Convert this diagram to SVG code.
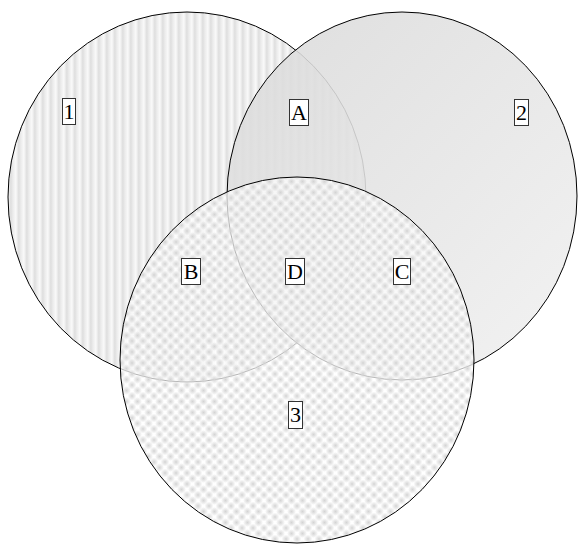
<svg xmlns="http://www.w3.org/2000/svg" width="579" height="545" viewBox="0 0 579 545">
<defs>
<linearGradient id="stripeG" x1="0" y1="0" x2="1" y2="0">
<stop offset="0" stop-color="#f8f8f8"/>
<stop offset="0.35" stop-color="#dedede"/>
<stop offset="0.6" stop-color="#ebebeb"/>
<stop offset="1" stop-color="#fafafa"/>
</linearGradient>
<pattern id="stripes" patternUnits="userSpaceOnUse" width="8" height="10">
<rect width="8" height="10" fill="url(#stripeG)"/>
</pattern>
<linearGradient id="grad2" x1="0" y1="0" x2="1" y2="1">
<stop offset="0" stop-color="#d9d9d9"/>
<stop offset="1" stop-color="#f1f1f1"/>
</linearGradient>
<radialGradient id="dot">
<stop offset="0" stop-color="#d4d4d4"/>
<stop offset="1" stop-color="#d4d4d4" stop-opacity="0"/>
</radialGradient>
<pattern id="checks" patternUnits="userSpaceOnUse" width="11" height="11">
<rect width="11" height="11" fill="#ffffff" fill-opacity="0.7"/>
<circle cx="0" cy="0" r="4.5" fill="url(#dot)"/>
<circle cx="11" cy="0" r="4.5" fill="url(#dot)"/>
<circle cx="0" cy="11" r="4.5" fill="url(#dot)"/>
<circle cx="11" cy="11" r="4.5" fill="url(#dot)"/>
<circle cx="5.5" cy="5.5" r="4.5" fill="url(#dot)"/>
</pattern>
</defs>
<style>
.set{stroke:#000;stroke-width:1}
.lbl rect{fill:#fff;stroke:#333;stroke-width:1}
.lbl text{font-family:"Liberation Serif","Times New Roman",serif;font-size:22px;fill:#000;text-anchor:middle}
</style>
<g id="set1"><ellipse class="set" cx="187" cy="197" rx="179" ry="185" fill="url(#stripes)"/></g>
<g id="set2"><ellipse class="set" cx="402" cy="196" rx="175" ry="184" fill="url(#grad2)" fill-opacity="0.88"/></g>
<g id="set3"><ellipse class="set" cx="297" cy="360" rx="177" ry="183" fill="url(#checks)"/></g>
<g id="connectors"/>
<g id="label1" class="lbl"><rect x="62.5" y="98.5" width="13" height="26"/><text x="69" y="119">1</text></g>
<g id="labelA" class="lbl"><rect x="289.5" y="99.5" width="19" height="26"/><text x="299" y="120">A</text></g>
<g id="label2" class="lbl"><rect x="514.5" y="99.5" width="14" height="26"/><text x="521.5" y="120">2</text></g>
<g id="labelB" class="lbl"><rect x="181.5" y="258.5" width="19" height="26"/><text x="191" y="279">B</text></g>
<g id="labelD" class="lbl"><rect x="285.5" y="258.5" width="19" height="26"/><text x="295" y="279">D</text></g>
<g id="labelC" class="lbl"><rect x="393.5" y="258.5" width="17" height="26"/><text x="402" y="279">C</text></g>
<g id="label3" class="lbl"><rect x="288.5" y="401.5" width="14" height="27"/><text x="295.5" y="422">3</text></g>
</svg>
